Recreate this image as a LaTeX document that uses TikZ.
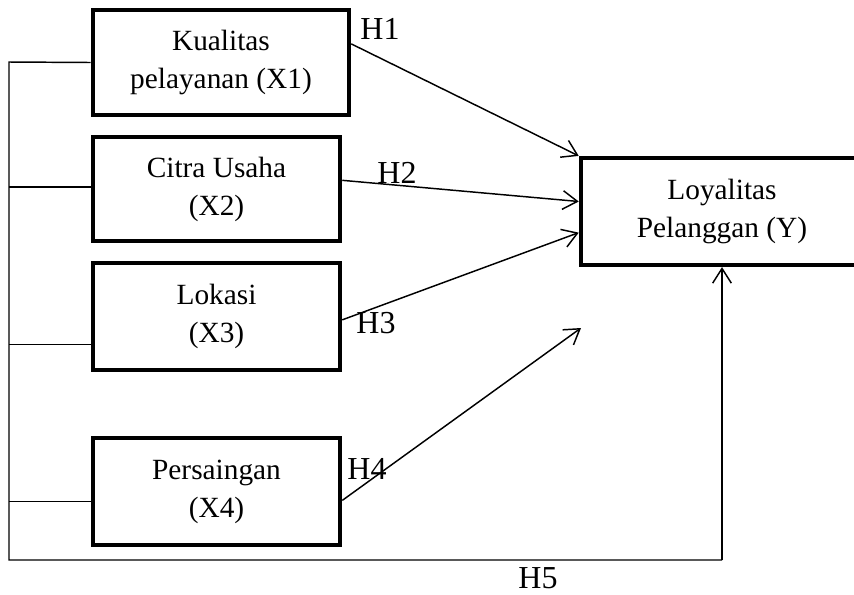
\documentclass[tikz,border=0pt]{standalone}
\usepackage{fontspec}
\setmainfont{Liberation Serif}
\usetikzlibrary{calc,arrows.meta}
\begin{document}
\begin{tikzpicture}[x=0.75pt,y=-0.75pt,
  varbox/.style={draw,line width=3.4pt,align=center,inner sep=0pt,
    font=\fontsize{22}{28.5}\selectfont},
  conn/.style={line width=1.1pt},
  arr/.style={conn,-{Straight Barb[length=11pt,width=14pt,line width=1.1pt]}},
  hlab/.style={font=\fontsize{24}{26}\selectfont,inner sep=0pt}]
\useasboundingbox (0,0) rectangle (854,594);
\node[varbox,minimum width=192pt,minimum height=78.75pt] (x1) at (221,62.5) {Kualitas\\pelayanan (X1)};
\node[varbox,minimum width=185.25pt,minimum height=78pt] (x2) at (216.5,189) {Citra Usaha\\(X2)};
\node[varbox,minimum width=185.25pt,minimum height=80pt] (x3) at (216.5,316.5) {Lokasi\\(X3)};
\node[varbox,minimum width=185.25pt,minimum height=80pt] (x4) at (216.5,491.5) {Persaingan\\(X4)};
\node[varbox,minimum width=211.5pt,minimum height=80pt] (y) at (722,211.5) {Loyalitas\\Pelanggan (Y)};
\coordinate (h4end) at (581,328);
\coordinate (lt) at (9,62);
\coordinate (lb) at (9,560);
\coordinate (rb) at (722,560);
\coordinate (s2) at ($(x2.north west)!0.48!(x2.south west)$);
\coordinate (s3) at ($(x3.north west)!0.75!(x3.south west)$);
\coordinate (s4) at ($(x4.north west)!0.59!(x4.south west)$);
% arrows to Y
\draw[arr] ($(x1.north east)!0.33!(x1.south east)$) -- (y.north west);
\draw[arr] ($(x2.north east)!0.42!(x2.south east)$) -- ($(y.north west)!0.41!(y.south west)$);
\draw[arr] ($(x3.north east)!0.53!(x3.south east)$) -- ($(y.north west)!0.69!(y.south west)$);
\draw[arr] ($(x4.north east)!0.58!(x4.south east)$) -- (h4end);
% left bus
\draw[conn] (x1.west) -- (lt) -- (lb) -- (rb);
\draw[arr] (rb) -- (y.south);
\draw[conn] (s2) -- (lt |- s2);
\draw[conn] (s3) -- (lt |- s3);
\draw[conn] (s4) -- (lt |- s4);
% labels
\node[hlab] (h1) at (380,29) {H1};
\node[hlab] (h2) at (397,173) {H2};
\node[hlab] (h3) at (376,323) {H3};
\node[hlab] (h4) at (367,469) {H4};
\node[hlab] (h5) at (538,578) {H5};
\end{tikzpicture}
\end{document}
